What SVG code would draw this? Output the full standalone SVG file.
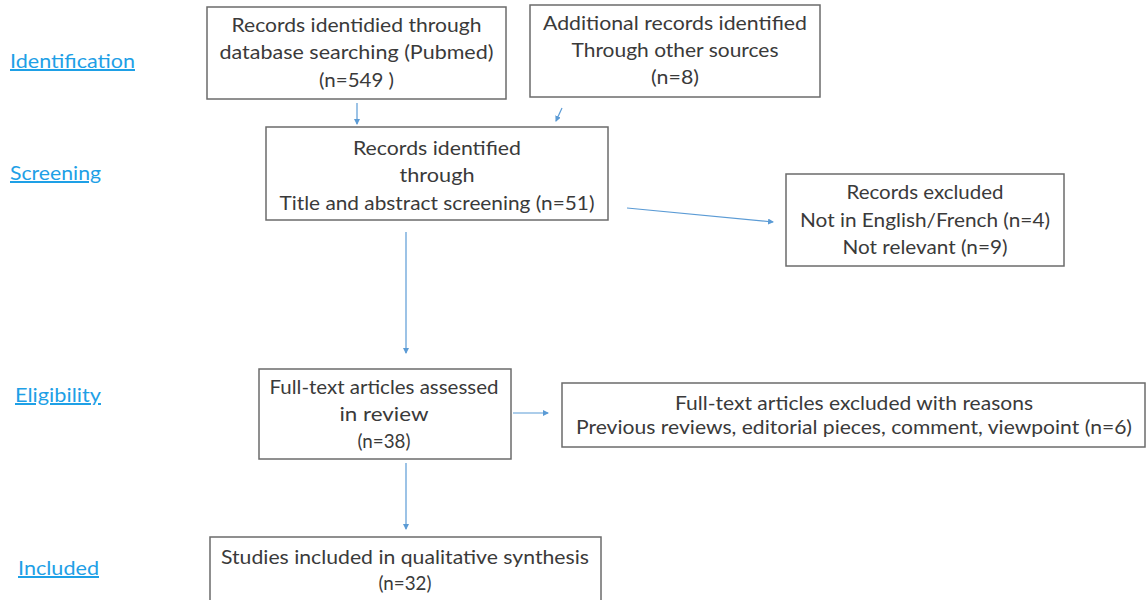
<svg xmlns="http://www.w3.org/2000/svg" width="1147" height="600" viewBox="0 0 1147 600">
<style>
.box{fill:#fff;stroke:#6b6b6b;stroke-width:1.5}
.t{font-family:Lato,"Open Sans",sans-serif;font-size:20px;fill:#3a3a3a;text-anchor:middle}
.lab{font-family:Lato,"Open Sans",sans-serif;font-size:20px;fill:#1ea0e6;text-decoration:underline}
.c{stroke:#5b9bd5;stroke-width:1.2;fill:none;marker-end:url(#ah)}
</style>
<defs>
<marker id="ah" markerWidth="6" markerHeight="6" refX="5" refY="3" orient="auto" markerUnits="userSpaceOnUse">
<path d="M0,0 L6,3 L0,6 Z" fill="#5b9bd5"/>
</marker>
</defs>
<rect width="1147" height="600" fill="#fff"/>
<g id="labels">
<text class="lab" x="10" y="68" textLength="125" lengthAdjust="spacingAndGlyphs">Identification</text>
<text class="lab" x="10" y="180" textLength="91" lengthAdjust="spacingAndGlyphs">Screening</text>
<text class="lab" x="15" y="402" textLength="86" lengthAdjust="spacingAndGlyphs">Eligibility</text>
<text class="lab" x="18" y="575" textLength="81" lengthAdjust="spacingAndGlyphs">Included</text>
</g>
<g id="connectors">
<line class="c" x1="357" y1="103" x2="357" y2="124"/>
<line class="c" x1="562" y1="108" x2="556" y2="121"/>
<line class="c" x1="627" y1="208" x2="773" y2="222"/>
<line class="c" x1="406" y1="232" x2="406" y2="353"/>
<line class="c" x1="513" y1="413" x2="548" y2="413"/>
<line class="c" x1="406" y1="463" x2="406" y2="529"/>
</g>
<g id="nodeA">
<rect class="box" x="207" y="7" width="299" height="92"/>
<text class="t" x="356.5" y="32" textLength="250" lengthAdjust="spacingAndGlyphs">Records identidied through</text>
<text class="t" x="356.5" y="59" textLength="274" lengthAdjust="spacingAndGlyphs">database searching (Pubmed)</text>
<text class="t" x="356.5" y="87" textLength="75" lengthAdjust="spacingAndGlyphs">(n=549 )</text>
</g>
<g id="nodeB">
<rect class="box" x="530" y="5" width="290" height="92"/>
<text class="t" x="675" y="30" textLength="264" lengthAdjust="spacingAndGlyphs">Additional records identified</text>
<text class="t" x="675" y="57" textLength="207" lengthAdjust="spacingAndGlyphs">Through other sources</text>
<text class="t" x="675" y="84" textLength="48" lengthAdjust="spacingAndGlyphs">(n=8)</text>
</g>
<g id="nodeC">
<rect class="box" x="266" y="127" width="342" height="93"/>
<text class="t" x="437" y="155" textLength="168" lengthAdjust="spacingAndGlyphs">Records identified</text>
<text class="t" x="437" y="182" textLength="75" lengthAdjust="spacingAndGlyphs">through</text>
<text class="t" x="437" y="210" textLength="315" lengthAdjust="spacingAndGlyphs">Title and abstract screening (n=51)</text>
</g>
<g id="nodeD">
<rect class="box" x="786" y="174" width="278" height="92"/>
<text class="t" x="925" y="199" textLength="157" lengthAdjust="spacingAndGlyphs">Records excluded</text>
<text class="t" x="925" y="227" textLength="250" lengthAdjust="spacingAndGlyphs">Not in English/French (n=4)</text>
<text class="t" x="925" y="254" textLength="165" lengthAdjust="spacingAndGlyphs">Not relevant (n=9)</text>
</g>
<g id="nodeE">
<rect class="box" x="259" y="369" width="252" height="90"/>
<text class="t" x="384" y="394" textLength="229" lengthAdjust="spacingAndGlyphs">Full-text articles assessed</text>
<text class="t" x="384" y="421" textLength="89" lengthAdjust="spacingAndGlyphs">in review</text>
<text class="t" x="384" y="448" textLength="53" lengthAdjust="spacingAndGlyphs">(n=38)</text>
</g>
<g id="nodeF">
<rect class="box" x="562" y="383" width="583" height="64"/>
<text class="t" x="854" y="410" textLength="358" lengthAdjust="spacingAndGlyphs">Full-text articles excluded with reasons</text>
<text class="t" x="854" y="434" textLength="556" lengthAdjust="spacingAndGlyphs">Previous reviews, editorial pieces, comment, viewpoint (n=6)</text>
</g>
<g id="nodeG">
<rect class="box" x="210" y="537" width="391" height="70"/>
<text class="t" x="405" y="564" textLength="368" lengthAdjust="spacingAndGlyphs">Studies included in qualitative synthesis</text>
<text class="t" x="405" y="590" textLength="53" lengthAdjust="spacingAndGlyphs">(n=32)</text>
</g>
</svg>
